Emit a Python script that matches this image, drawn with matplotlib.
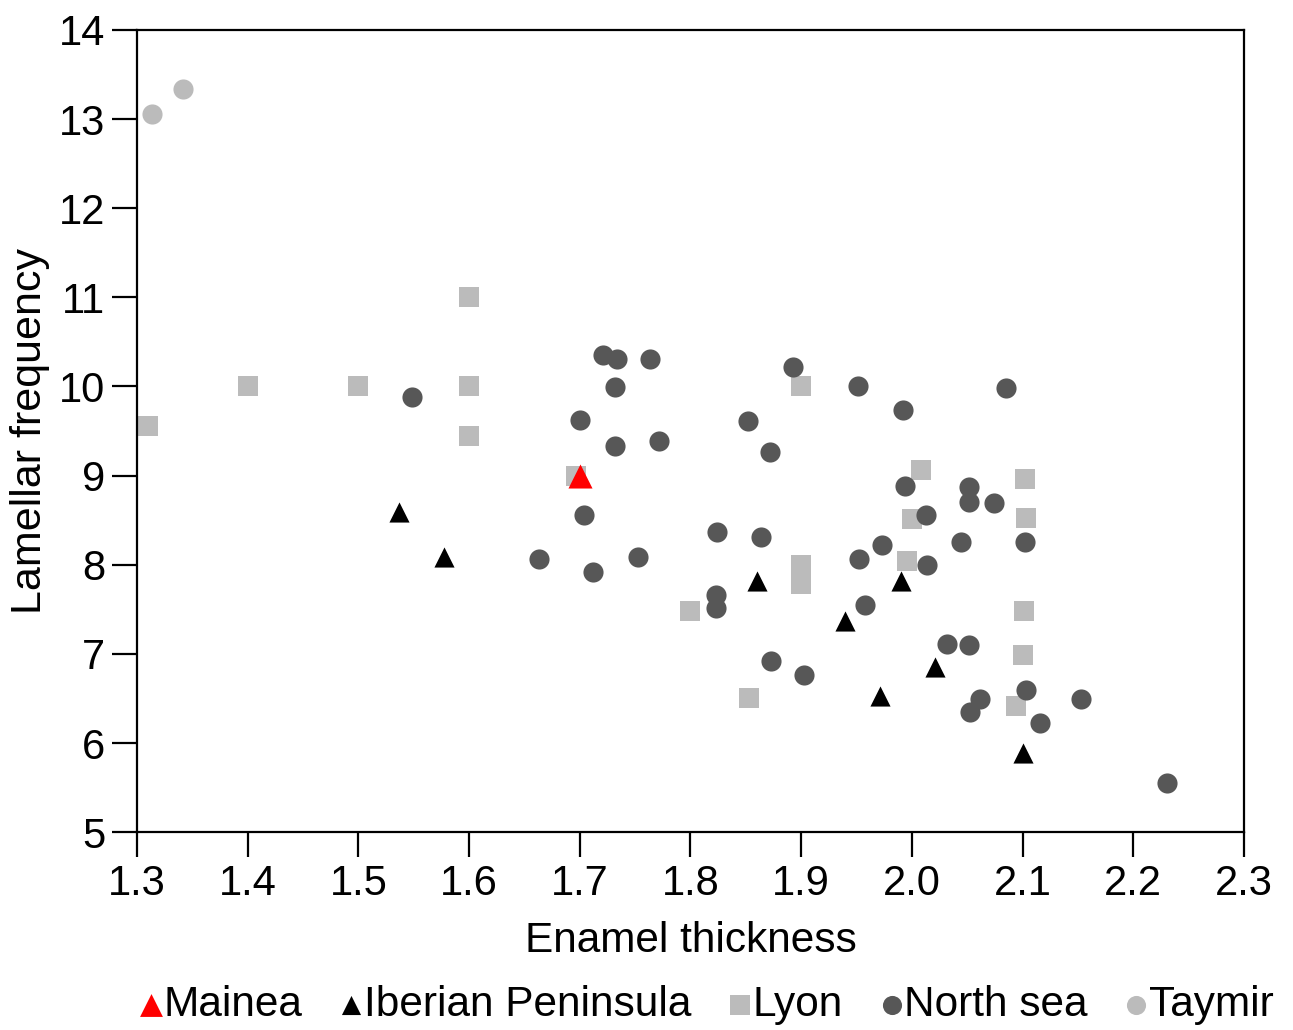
import numpy as np
import matplotlib.pyplot as plt

plt.rcParams['font.family'] = ['Liberation Sans', 'DejaVu Sans']

# Mainea
mainea_x = [1.70]
mainea_y = [9.00]

# Iberian Peninsula
iberian_x = [1.537, 1.577, 1.860, 1.940, 1.971, 1.990, 2.021, 2.100]
iberian_y = [8.59, 8.09, 7.82, 7.37, 6.53, 7.82, 6.85, 5.89]

# Lyon
lyon_x = [1.31, 1.40, 1.50, 1.60, 1.60, 1.60, 1.697, 1.90, 1.80, 1.853,
          1.90, 1.90, 2.008, 2.00, 1.996, 2.102, 2.103, 2.101, 2.100, 2.094]
lyon_y = [9.56, 10.0, 10.0, 11.0, 10.0, 9.44, 9.00, 10.0, 7.48, 6.51,
          8.00, 7.78, 9.06, 8.51, 8.04, 8.96, 8.52, 7.48, 6.99, 6.42]

# North sea
north_x = [1.548, 1.663, 1.721, 1.734, 1.732, 1.700, 1.732, 1.763, 1.772, 1.704,
           1.712, 1.753, 1.824, 1.823, 1.823, 1.864, 1.872, 1.852, 1.893, 1.873,
           1.903, 1.951, 1.992, 1.952, 1.958, 1.973, 1.994, 2.013, 2.014, 2.085,
           2.052, 2.052, 2.074, 2.044, 2.032, 2.052, 2.102, 2.103, 2.062, 2.053,
           2.116, 2.153, 2.231]
north_y = [9.88, 8.07, 10.35, 10.31, 9.99, 9.62, 9.33, 10.31, 9.39, 8.56,
           7.92, 8.09, 8.37, 7.66, 7.51, 8.31, 9.27, 9.61, 10.22, 6.92,
           6.76, 10.00, 9.74, 8.07, 7.55, 8.22, 8.88, 8.56, 8.00, 9.98,
           8.87, 8.70, 8.69, 8.25, 7.11, 7.10, 8.25, 6.60, 6.50, 6.35,
           6.22, 6.49, 5.55]

# Taymir
taymir_x = [1.3136, 1.3416]
taymir_y = [13.06, 13.34]

fig = plt.figure(figsize=(12.93, 10.30), dpi=100)
ax = fig.add_axes([0.106, 0.192, 0.856, 0.779])

h_lyon = ax.scatter(lyon_x, lyon_y, marker='s', s=225, color='#bbbbbb',
                    linewidths=0, label='Lyon', zorder=2)
h_north = ax.scatter(north_x, north_y, marker='o', s=210, color='#575757',
                     linewidths=0, label='North sea', zorder=3)
h_taymir = ax.scatter(taymir_x, taymir_y, marker='o', s=210, color='#bbbbbb',
                      linewidths=0, label='Taymir', zorder=3)
h_iber = ax.scatter(iberian_x, iberian_y, marker='^', s=210, color='black',
                    linewidths=0, label='Iberian Peninsula', zorder=4)
h_main = ax.scatter(mainea_x, mainea_y, marker='^', s=300, color='#ff0000',
                    linewidths=0, label='Mainea', zorder=5)

ax.set_xlim(1.3, 2.3)
ax.set_ylim(5, 14)
ax.set_xticks(np.arange(1.3, 2.31, 0.1))
ax.set_xticklabels(['1.3', '1.4', '1.5', '1.6', '1.7', '1.8', '1.9',
                    '2.0', '2.1', '2.2', '2.3'])
ax.set_yticks(range(5, 15))

for sp in ax.spines.values():
    sp.set_linewidth(1.6)
ax.tick_params(direction='out', length=18, width=1.6, labelsize=30, pad=5)

ax.set_xlabel('Enamel thickness', fontsize=30.5, labelpad=12)
ax.set_ylabel('Lamellar frequency', fontsize=31, labelpad=6)

fig.legend(handles=[h_main, h_iber, h_lyon, h_north, h_taymir],
           loc='center', bbox_to_anchor=(0.546, 0.024), ncol=5,
           frameon=False, fontsize=30.5, markerscale=0.95,
           handlelength=0.6, handletextpad=0.0, columnspacing=0.85,
           borderaxespad=0)

fig.savefig('out.png', dpi=100)
